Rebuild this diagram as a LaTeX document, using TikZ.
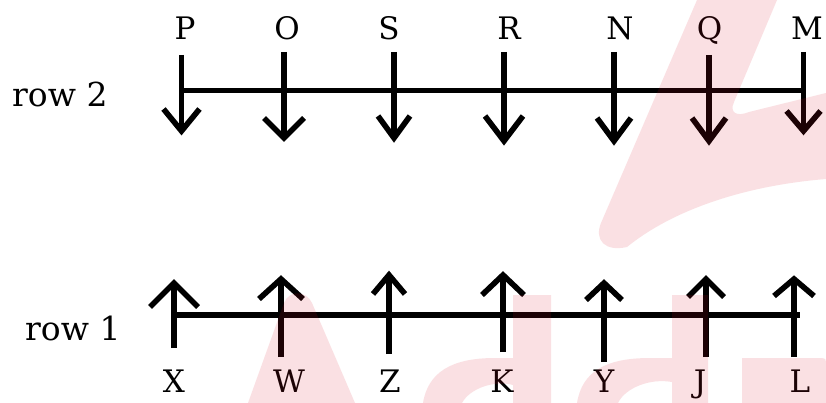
\documentclass[tikz,border=0pt]{standalone}
\usepackage{fontspec}
\newfontfamily\dvs{DejaVu Serif}
\newcommand\lblfont{\dvs\fontsize{31}{36}\selectfont}
\newcommand\rowfont{\dvs\fontsize{33}{38}\selectfont}
\usetikzlibrary{calc}
\definecolor{wmred}{RGB}{220,20,40}
\tikzset{
  stem/.style={line width=5.6pt, line cap=butt},
  head/.style={line width=5.6pt, line join=miter, line cap=butt},
  lbl/.style={font=\lblfont, anchor=base, inner sep=0pt},
  rowlbl/.style={font=\rowfont, anchor=base west, inner sep=0pt},
  wm/.style={fill=wmred, fill opacity=0.13}
}
\begin{document}
\begin{tikzpicture}[x=1pt,y=-1pt]
\useasboundingbox (0,0) rectangle (826,403);
\fill[white] (0,0) rectangle (826,403);

% row labels
\node[rowlbl] (row2) at (12,107) {row 2};
\node[rowlbl] (row1) at (25,340) {row 1};

% row 2: downward arrows
\foreach \n/\x/\t/\b/\w/\h/\lx in {P/181.5/55/131/18/22/185, O/284/52/138/20/20/287, S/394/52/138/16/22/389, R/504/52/141/19/25/509, N/614/52/141/17/23/620, Q/709/55/141/17/23/709.5, M/803.5/52/131/17/20/807}{
  \coordinate (\n-s) at (\x,\t);
  \coordinate (\n-e) at (\x,\b);
  \draw[stem] (\n-s) -- (\n-e);
  \draw[head] ($(\n-e)+(-\w,-\h)$) -- (\n-e) -- ($(\n-e)+(\w,-\h)$);
  \node[lbl] (\n) at (\lx,40) {\n};
}
\coordinate (r2a) at (181.5,90.7);
\coordinate (r2b) at (803.5,90.7);
\draw[stem] (r2a) -- (r2b);

% row 1: upward arrows
\foreach \n/\x/\t/\b/\w/\h/\lx in {X/174/348/283/24/24/174, W/281/357/279/22/20/289, Z/389/354/275/16/19/390, K/503/352/275/21/20/502, Y/604/362/283/18/17/604, J/706/357/279/18/18/700, L/794/357/279/20/17/800}{
  \coordinate (\n-s) at (\x,\t);
  \coordinate (\n-e) at (\x,\b);
  \draw[stem] (\n-s) -- (\n-e);
  \draw[head] ($(\n-e)+(-\w,\h)$) -- (\n-e) -- ($(\n-e)+(\w,\h)$);
  \node[lbl] (\n) at (\lx,392) {\n};
}
\coordinate (r1a) at (174,315);
\coordinate (r1b) at (800,315);
\draw[stem] (r1a) -- (r1b);

% watermark
\fill[wm] (627,247) .. controls (605,252) and (594,240) .. (601,223) -- (697,0) -- (777,0) -- (734,102)
  .. controls (729,113) and (737,117) .. (749,112) -- (826,93) -- (826,179)
  .. controls (740,186) and (670,212) .. (627,247) -- cycle;
\fill[wm] (248,403) -- (284,303) .. controls (289,290) and (306,290) .. (312,303) -- (355,403) -- cycle;
\fill[wm] (423,403) .. controls (428,372) and (452,358) .. (495,358) -- (513,358) -- (513,295) -- (551,295) -- (551,403) -- (513,403) -- (513,385) .. controls (495,380) and (470,388) .. (462,403) -- cycle;
\fill[wm] (577,403) .. controls (582,372) and (605,358) .. (650,358) -- (672,358) -- (672,295) -- (708,295) -- (708,403) -- (672,403) -- (672,382) .. controls (650,378) and (625,388) .. (618,403) -- cycle;
\fill[wm] (742,403) -- (742,358) -- (820,358) .. controls (826,358) and (826,360) .. (826,362) -- (826,403) -- cycle;
\end{tikzpicture}
\end{document}
